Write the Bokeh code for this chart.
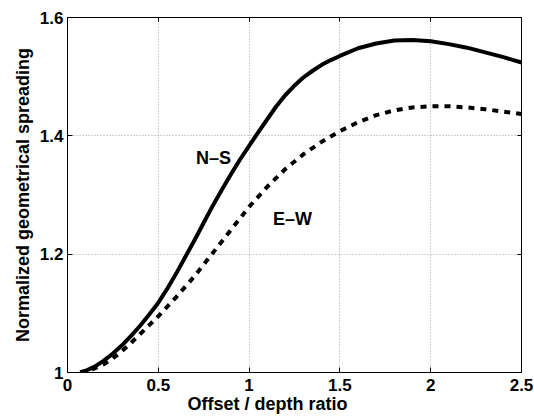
from bokeh.plotting import figure
from bokeh.models import (Range1d, FixedTicker, CustomJSTickFormatter, LinearAxis, Title,
                          CustomLabelingPolicy)
from bokeh.core.properties import value
from bokeh.embed import file_html
from bokeh.resources import INLINE

# ---- data ----
ns_x = [0.07, 0.10, 0.15, 0.20, 0.25, 0.30, 0.35, 0.40, 0.45, 0.50, 0.55, 0.60,
        0.65, 0.70, 0.75, 0.80, 0.85, 0.90, 0.95, 1.00, 1.05, 1.10, 1.15, 1.20,
        1.25, 1.30, 1.35, 1.40, 1.45, 1.50, 1.60, 1.70, 1.80, 1.90, 2.00, 2.10,
        2.20, 2.30, 2.40, 2.50]
ns_y = [1.000, 1.003, 1.010, 1.020, 1.032, 1.046, 1.062, 1.079, 1.098, 1.118, 1.142, 1.168,
        1.196, 1.224, 1.253, 1.282, 1.309, 1.335, 1.360, 1.383, 1.406, 1.428, 1.450, 1.469,
        1.485, 1.499, 1.510, 1.520, 1.528, 1.535, 1.548, 1.556, 1.561, 1.562, 1.560, 1.555,
        1.549, 1.541, 1.533, 1.524]

ew_x = [0.07, 0.10, 0.15, 0.20, 0.25, 0.30, 0.35, 0.40, 0.45, 0.50, 0.60, 0.70,
        0.80, 0.90, 1.00, 1.10, 1.20, 1.30, 1.40, 1.50, 1.60, 1.70, 1.80, 1.90,
        2.00, 2.10, 2.20, 2.30, 2.40, 2.50]
ew_y = [1.000, 1.002, 1.007, 1.014, 1.024, 1.036, 1.050, 1.065, 1.080, 1.095, 1.128, 1.163,
        1.202, 1.241, 1.280, 1.314, 1.344, 1.369, 1.390, 1.408, 1.423, 1.435, 1.443, 1.448,
        1.450, 1.450, 1.448, 1.445, 1.441, 1.437]

x_ticks = [0, 0.5, 1, 1.5, 2, 2.5]
y_ticks = [1, 1.2, 1.4, 1.6]

labels = ["N\u2013S", "E\u2013W"]
label_x = [0.804, 1.239]
label_y = [1.363, 1.259]

FONT = "Liberation Sans"

p = figure(frame_width=454, frame_height=355,
           min_border_left=67, min_border_right=13, min_border_top=17, min_border_bottom=40,
           x_range=Range1d(0, 2.5), y_range=Range1d(1, 1.6),
           output_backend="svg", toolbar_location=None,
           background_fill_color="white", border_fill_color="white")

p.outline_line_color = "black"
p.outline_line_width = 1
p.outline_line_alpha = 1

fmt = CustomJSTickFormatter(code="return tick.toString();")

for ax, ticks in ((p.xaxis[0], x_ticks), (p.yaxis[0], y_ticks)):
    ax.ticker = FixedTicker(ticks=ticks)
    ax.formatter = fmt
    ax.major_tick_in = 5
    ax.major_tick_out = 0
    ax.minor_tick_line_color = None
    ax.axis_line_color = "black"
    ax.axis_line_width = 1
    ax.major_tick_line_color = "black"
    ax.major_label_text_font = FONT
    ax.major_label_text_font_style = "bold"
    ax.major_label_text_font_size = "17px"
    ax.major_label_text_color = "black"

p.xaxis.major_label_standoff = 6
p.yaxis.major_label_standoff = 4

p.yaxis.axis_label = "Normalized geometrical spreading"
p.yaxis.axis_label_text_font = FONT
p.yaxis.axis_label_text_font_style = "bold"
p.yaxis.axis_label_text_font_size = "18px"
p.yaxis.axis_label_text_color = "black"
p.yaxis.axis_label_standoff = 4

# box ticks on top and right (no labels)
no_labels = CustomLabelingPolicy(
    code="const all = Array.from(indices); for (const i of all) { indices.unset(i); } return indices;")
for side, ticks in (("above", x_ticks), ("right", y_ticks)):
    ax = LinearAxis(ticker=FixedTicker(ticks=ticks), major_label_policy=no_labels,
                    major_label_standoff=0, axis_line_color=None,
                    major_tick_in=4, major_tick_out=0, minor_tick_line_color=None,
                    major_tick_line_color="black")
    p.add_layout(ax, side)

# grid
for g, ticks in ((p.xgrid[0], x_ticks), (p.ygrid[0], y_ticks)):
    g.ticker = FixedTicker(ticks=ticks)
    g.grid_line_color = "#a0a0a0"
    g.grid_line_dash = "1 2"
    g.grid_line_width = 1

# x-axis title
p.add_layout(Title(text="Offset / depth ratio", align="left", offset=120,
                   text_font=FONT, text_font_style="bold", text_font_size="18px",
                   text_color="black", standoff=0, vertical_align="top"), "below")

# curves
p.line(ns_x, ns_y, line_color="black", line_width=4, line_join="round")
p.line(ew_x, ew_y, line_color="black", line_width=4, line_dash="6 6", line_cap="butt")

p.text(x=label_x, y=label_y, text=labels, text_font=value(FONT), text_font_style="bold",
       text_font_size="18px", text_align="center", text_baseline="middle", text_color="black")

open("out.html", "w").write(file_html(p, INLINE))
